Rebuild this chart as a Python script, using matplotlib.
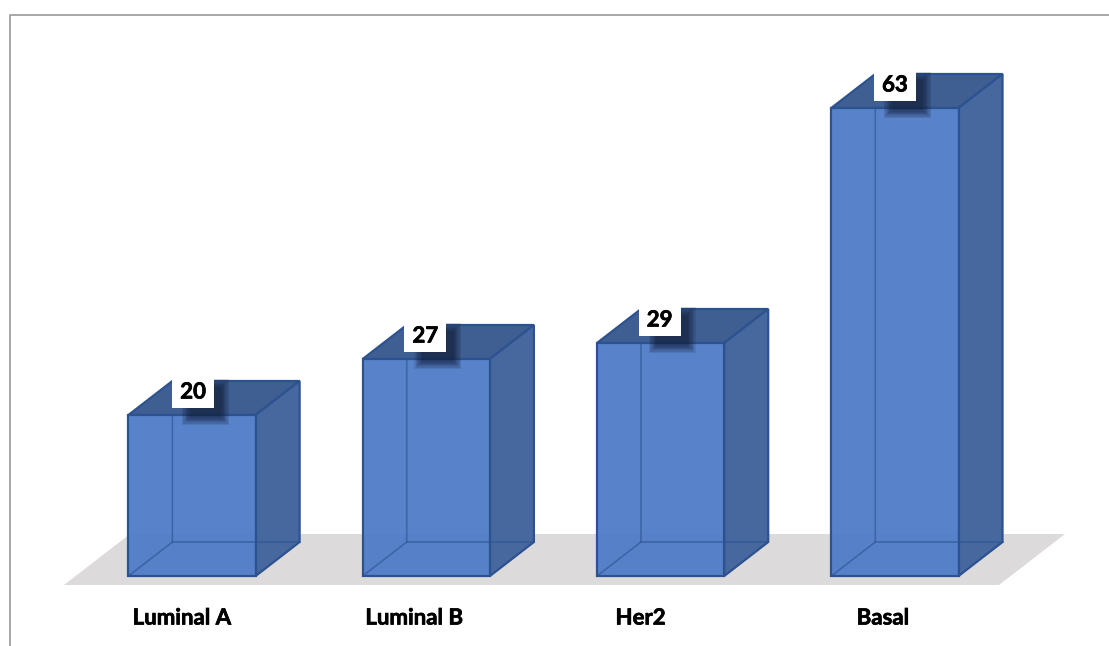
import matplotlib
matplotlib.use("Agg")
import matplotlib.patheffects as pe
import matplotlib.pyplot as plt
import numpy as np
from matplotlib.patches import Polygon, Rectangle
from matplotlib.transforms import IdentityTransform

categories = ["Luminal A", "Luminal B", "Her2", "Basal"]
values = [20, 27, 29, 63]

# the value axis of this chart is uneven, so it is a piecewise scale
scale_values = [-10, 0, 20, 27, 29, 63, 85]
scale_heights = [-70, 0, 161, 217, 233, 468, 576]

FRONT = "#4f7cc9"
SIDE = "#46689f"
TOP = "#3f5f92"
EDGE = "#2c5290"
FLOOR = "#dcdadb"
DEPTH_X, DEPTH_Y = 44, 34


def to_height(v):
    return np.interp(v, scale_values, scale_heights)


def to_value(h):
    return np.interp(h, scale_heights, scale_values)


def face(ax, pts, color, alpha=1.0, zorder=2, edge=EDGE, lw=1.6):
    # faces are drawn in display pixels, the figure is 1:1 at dpi 100
    ax.add_patch(Polygon(pts, closed=True, facecolor=color, edgecolor=edge, linewidth=lw,
                         alpha=alpha, transform=IdentityTransform(), zorder=zorder, clip_on=False))


def main():
    plt.rcParams["font.family"] = ["Lato", "DejaVu Sans"]
    fig = plt.figure(figsize=(11.09, 6.46), dpi=100)
    ax = fig.add_axes([0, 0, 1, 1])
    ax.set_yscale("function", functions=(to_height, to_value))
    spacing = 234.3
    ax.set_xlim(-192.0 / spacing, (1109 - 192.0) / spacing)
    ax.set_ylim(-10, 85)
    ax.axis("off")

    # outer frame, only top and left show
    ax.plot([9.5, 9.5, 1109], [0, 631, 631], color="#a0a0a0", lw=1.3,
            transform=IdentityTransform(), zorder=1, clip_on=False)

    # floor
    face(ax, [(64, 61), (999, 61), (1065, 112), (130, 112)], FLOOR, zorder=1, edge="none", lw=0)

    x = np.arange(len(values))
    width = 0.543
    bars = ax.bar(x, values, width=width, color="none", edgecolor="none", zorder=2)
    stroke = [pe.withStroke(linewidth=0.5, foreground="black")]

    for i, bar in enumerate(bars):
        (x0, y0), (x1, y1) = bar.get_bbox().transformed(ax.transData).get_points()
        dx, dy = DEPTH_X, DEPTH_Y
        # back faces first so they show through the front
        face(ax, [(x0, y1), (x1, y1), (x1 + dx, y1 + dy), (x0 + dx, y1 + dy)], TOP, zorder=3)
        face(ax, [(x1, y0), (x1 + dx, y0 + dy), (x1 + dx, y1 + dy), (x1, y1)], SIDE, zorder=3)
        face(ax, [(x0, y0), (x1, y0), (x1, y1), (x0, y1)], FRONT, alpha=0.95, zorder=4, edge="none", lw=0)
        ax.plot([x0, x0 + dx, x0 + dx], [y0, y0 + dy, y1], color=EDGE, lw=1.2, alpha=0.6,
                transform=IdentityTransform(), zorder=5)
        ax.plot([x0 + dx, x1 + dx], [y0 + dy, y0 + dy], color=EDGE, lw=1.2, alpha=0.6,
                transform=IdentityTransform(), zorder=5)
        face(ax, [(x0, y0), (x1, y0), (x1, y1), (x0, y1)], "none", zorder=6)

        # soft shadow behind the value label, falling down and to the right
        cx = (x0 + x1) / 2 + [1, -1, -1, 0][i]
        cy = y1 + 22
        for grow in range(7):
            ax.add_patch(Rectangle((cx - 11 + grow * 1.3, cy - 32 + grow * 1.3),
                                   47 - 2.6 * grow, 46 - 2.6 * grow,
                                   facecolor="#0d1730", edgecolor="none", alpha=0.13,
                                   transform=IdentityTransform(), zorder=7))
        ax.add_patch(Rectangle((cx - 21, cy - 15), 42, 30, facecolor="white", edgecolor="none",
                               transform=IdentityTransform(), zorder=8))
        ax.text(cx, cy + 1, str(values[i]), transform=IdentityTransform(), ha="center", va="center",
                fontsize=16, fontweight="bold", color="black", zorder=9, path_effects=stroke)

    # category labels sit a little left of their bars
    label_offsets = [-10, -12, -20, -12]
    for xi, name, off in zip(x, categories, label_offsets):
        px = ax.transData.transform((xi, 0))[0] + off
        ax.text(px, 28, name, transform=IdentityTransform(), ha="center", va="center",
                fontsize=16, fontweight="bold", color="black", zorder=9, path_effects=stroke)

    fig.savefig("out.png", dpi=100)


if __name__ == "__main__":
    main()
